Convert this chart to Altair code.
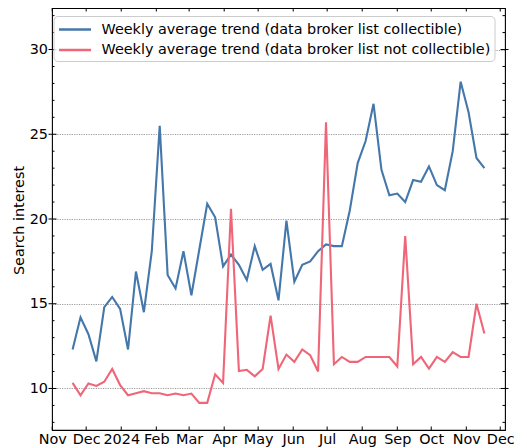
import altair as alt
import pandas as pd

# ---- data ----
dates = pd.date_range("2023-11-19", periods=53, freq="7D").strftime("%Y-%m-%dT00:00:00").tolist()

collectible = [12.3, 14.2, 13.2, 11.6, 14.8, 15.4, 14.7, 12.3, 16.9, 14.5,
               18.1, 25.5, 16.7, 15.9, 18.1, 15.5, 18.2, 20.9, 20.1, 17.2,
               17.9, 17.3, 16.4, 18.4, 17.0, 17.35, 15.2, 19.9, 16.3, 17.3,
               17.5, 18.1, 18.5, 18.4, 18.4, 20.5, 23.3, 24.6, 26.8, 22.9,
               21.4, 21.5, 21.0, 22.3, 22.2, 23.1, 22.0, 21.7, 24.0, 28.1,
               26.3, 23.6, 23.0]
not_collectible = [10.33, 9.6, 10.3, 10.15, 10.4, 11.15, 10.2, 9.6, 9.72, 9.84,
                   9.72, 9.72, 9.6, 9.7, 9.6, 9.7, 9.15, 9.15, 10.84, 10.33,
                   20.6, 11.03, 11.1, 10.72, 11.15, 14.3, 11.15, 12.0, 11.57, 12.3,
                   11.96, 11.0, 25.7, 11.43, 11.86, 11.57, 11.57, 11.86, 11.86, 11.86,
                   11.86, 11.3, 19.0, 11.43, 11.86, 11.17, 11.86, 11.57, 12.14, 11.86,
                   11.86, 15.0, 13.24]

series_names = ["Weekly average trend (data broker list collectible)",
                "Weekly average trend (data broker list not collectible)"]
series_colors = ["#4477AA", "#EE6677"]

month_ticks = ["2023-11-01", "2023-12-01", "2024-01-01", "2024-02-01", "2024-03-01",
               "2024-04-01", "2024-05-01", "2024-06-01", "2024-07-01", "2024-08-01",
               "2024-09-01", "2024-10-01", "2024-11-01", "2024-12-01"]
y_major = [10, 15, 20, 25, 30]
y_minor = [8, 9, 11, 12, 13, 14, 16, 17, 18, 19, 21, 22, 23, 24, 26, 27, 28, 29, 31, 32]

# ---- build tables ----
df = pd.DataFrame({
    "date": dates * 2,
    "value": collectible + not_collectible,
    "series": [series_names[0]] * len(dates) + [series_names[1]] * len(dates),
})
df_months = pd.DataFrame({"date": [m + "T00:00:00" for m in month_ticks]})
df_ymaj = pd.DataFrame({"v": y_major})
df_ymin = pd.DataFrame({"v": y_minor})

W, H = 453, 422
FONT = "DejaVu Sans"
FS = 14.4

xscale = alt.Scale(domain=[alt.DateTime(year=2023, month=10, date=31, hours=19),
                           alt.DateTime(year=2024, month=12, date=5, hours=5)])
yscale = alt.Scale(domain=[7.55, 32.45], nice=False, zero=False)

tick_vals = [alt.DateTime(year=int(m[:4]), month=int(m[5:7]), date=1) for m in month_ticks]

lines = alt.Chart(df).mark_line(strokeWidth=2.1, clip=True).encode(
    x=alt.X("date:T", scale=xscale, title=None,
            axis=alt.Axis(values=tick_vals, ticks=False, domain=False, grid=False,
                          labelExpr="month(datum.value) == 0 ? timeFormat(datum.value, '%Y') : timeFormat(datum.value, '%b')",
                          labelFlush=False, labelOverlap=False, labelPadding=2,
                          labelFontSize=FS)),
    y=alt.Y("value:Q", scale=yscale, title="Search interest",
            axis=alt.Axis(values=y_major, ticks=False, domain=False, grid=True,
                          gridColor="#808080", gridWidth=0.8, gridDash=[1.2, 1.2],
                          labelPadding=4.5, labelFontSize=FS,
                          titleX=-28.5, titleY=H / 2 + 1, titleAngle=-90,
                          titleBaseline="alphabetic", titleAlign="center")),
    color=alt.Color("series:N",
                    scale=alt.Scale(domain=series_names, range=series_colors),
                    legend=alt.Legend(orient="none", legendX=1.5, legendY=8, title=None,
                                      symbolType="M-2,0L2,0", symbolSize=256,
                                      symbolStrokeWidth=2.5, symbolOffset=8,
                                      labelFontSize=FS, labelFont=FONT, labelColor="black",
                                      labelOffset=17, labelLimit=0,
                                      padding=4, rowPadding=4.5,
                                      strokeColor="#cccccc", fillColor="rgba(255,255,255,0.85)",
                                      cornerRadius=4)),
)

def yticks(data, x1, x2):
    return alt.Chart(data).mark_rule(color="black", strokeWidth=1).encode(
        y=alt.Y("v:Q", scale=yscale, axis=None),
        x=alt.value(x1), x2=alt.value(x2))

def xticks(y1, y2):
    return alt.Chart(df_months).mark_rule(color="black", strokeWidth=1).encode(
        x=alt.X("date:T", scale=xscale, axis=None),
        y=alt.value(y1), y2=alt.value(y2))

chart = alt.layer(
    lines,
    yticks(df_ymaj, -3.5, 4.5),
    yticks(df_ymaj, W - 4.5, W + 3.5),
    yticks(df_ymin, 0, 2.5),
    yticks(df_ymin, W - 2.5, W),
    xticks(H - 3.5, H),
    xticks(0, 3.5),
).resolve_axis(
    x="independent", y="independent"
).properties(
    width=W, height=H,
    autosize=alt.AutoSizeParams(type="none"),
    padding={"left": 44, "top": 0, "right": 10, "bottom": 18},
).configure_view(
    stroke="black", strokeWidth=1.1
).configure_axis(
    labelFont=FONT, titleFont=FONT, labelColor="black", titleColor="black",
    labelFontSize=FS, titleFontSize=FS, titleFontWeight="normal"
)

chart.save("out.html", embed_options={"renderer": "svg", "actions": False})
